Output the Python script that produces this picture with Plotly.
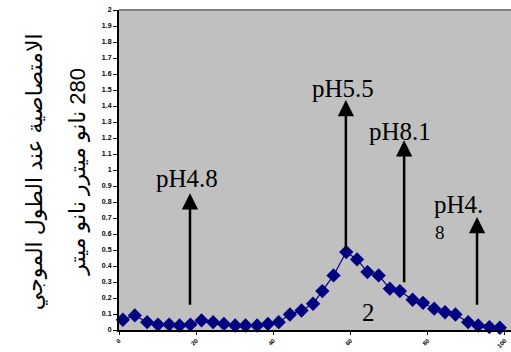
import plotly.graph_objects as go

# data
x_vals = [1.0, 4.1, 7.3, 10.1, 13.0, 15.7, 18.5, 21.4, 24.4, 27.2, 30.1, 32.8, 35.8, 38.6, 41.4,
          44.3, 47.3, 50.3, 52.7, 55.6, 58.9, 61.7, 64.4, 67.3, 70.2, 72.8, 76.1, 78.8, 81.7,
          84.5, 87.2, 90.5, 93.1, 96.0, 98.7]
y_vals = [0.064, 0.091, 0.049, 0.034, 0.034, 0.028, 0.034, 0.060, 0.049, 0.038, 0.028, 0.028,
          0.028, 0.038, 0.049, 0.097, 0.122, 0.164, 0.243, 0.341, 0.487, 0.441, 0.362, 0.341,
          0.258, 0.243, 0.189, 0.170, 0.133, 0.111, 0.097, 0.049, 0.028, 0.018, 0.014]

y_ticks = [i / 10 for i in range(0, 21)]
y_tick_labels = ["0", "0.1", "0.2", "0.3", "0.4", "0.5", "0.6", "0.7", "0.8", "0.9", "1",
                 "1.1", "1.2", "1.3", "1.4", "1.5", "1.6", "1.7", "1.8", "1.9", "2"]
x_ticks = [0, 20, 40, 60, 80, 100]
x_tick_labels = ["0", "20", "40", "60", "80", "100"]

# arrows: (x, y_tail, y_head)
arrow_x = [18.4, 58.8, 73.9, 92.8]
arrow_tail = [0.149, 0.49, 0.289, 0.149]
arrow_head = [0.854, 1.437, 1.186, 0.706]
label_text = ["pH4.8", "pH5.5", "pH8.1", "pH4.", "8"]
label_x = [17.6, 58.0, 72.8, 81.2, 81.4]
label_y = [0.95, 1.51, 1.242, 0.785, 0.61]

title_line1 = "الامتصاصية عند الطول الموجي"
title_line2 = "\u200f280 نانو ميترر نانو ميتر"

fig = go.Figure()
fig.add_trace(go.Scatter(
    x=x_vals, y=y_vals, mode="lines+markers",
    line=dict(color="#000080", width=1.2),
    marker=dict(symbol="diamond", size=11, color="#000080"),
    showlegend=False, cliponaxis=False,
))

annotations = []
for xa, yt, yh in zip(arrow_x, arrow_tail, arrow_head):
    annotations.append(dict(
        x=xa, y=yh, ax=xa, ay=yt, xref="x", yref="y", axref="x", ayref="y",
        text="", showarrow=True, arrowhead=2, arrowsize=1.3, arrowwidth=2.5,
        arrowcolor="black", standoff=0, startstandoff=0,
    ))
for i, (t, lx, ly) in enumerate(zip(label_text, label_x, label_y)):
    annotations.append(dict(
        x=lx, y=ly, xref="x", yref="y", text=t, showarrow=False,
        xanchor="left" if i >= 3 else "center", yanchor="middle",
        font=dict(family="Liberation Serif, Times New Roman, serif",
                  size=19 if i == 4 else 25, color="black"),
    ))
annotations.append(dict(
    x=64.7, y=0.11, xref="x", yref="y", text="2", showarrow=False,
    font=dict(family="Liberation Serif, Times New Roman, serif", size=25, color="black"),
))
annotations.append(dict(
    x=-0.252, y=0.494, xref="paper", yref="paper", text=title_line1, showarrow=False,
    textangle=-90, font=dict(family="Arial, DejaVu Sans, sans-serif", size=22, color="black"),
))
annotations.append(dict(
    x=-0.142, y=0.494, xref="paper", yref="paper", text=title_line2, showarrow=False,
    textangle=-90, font=dict(family="Arial, DejaVu Sans, sans-serif", size=22, color="black"),
))

fig.update_layout(
    width=511, height=352,
    margin=dict(l=119, r=0, t=10, b=22, pad=0),
    paper_bgcolor="white", plot_bgcolor="#C0C0C0",
    annotations=annotations,
    shapes=[dict(type="line", xref="paper", yref="paper", x0=0, x1=1, y0=1, y1=1,
                 line=dict(color="#808080", width=2))],
)
fig.update_xaxes(
    range=[0, 101.6], tickvals=x_ticks, ticktext=x_tick_labels, tickangle=-45,
    showgrid=False, zeroline=False, showline=True, linecolor="black", linewidth=2,
    ticks="outside", ticklen=3, tickwidth=1, tickcolor="black",
    tickfont=dict(family="Arial, sans-serif", size=6, color="black", weight="bold"),
)
fig.update_yaxes(
    range=[0, 2], tickvals=y_ticks, ticktext=y_tick_labels,
    showgrid=False, zeroline=False, showline=True, linecolor="black", linewidth=2,
    ticks="outside", ticklen=4, tickwidth=1, tickcolor="black",
    tickfont=dict(family="Arial, sans-serif", size=7, color="black", weight="bold"),
)

fig.write_html("out.html")
